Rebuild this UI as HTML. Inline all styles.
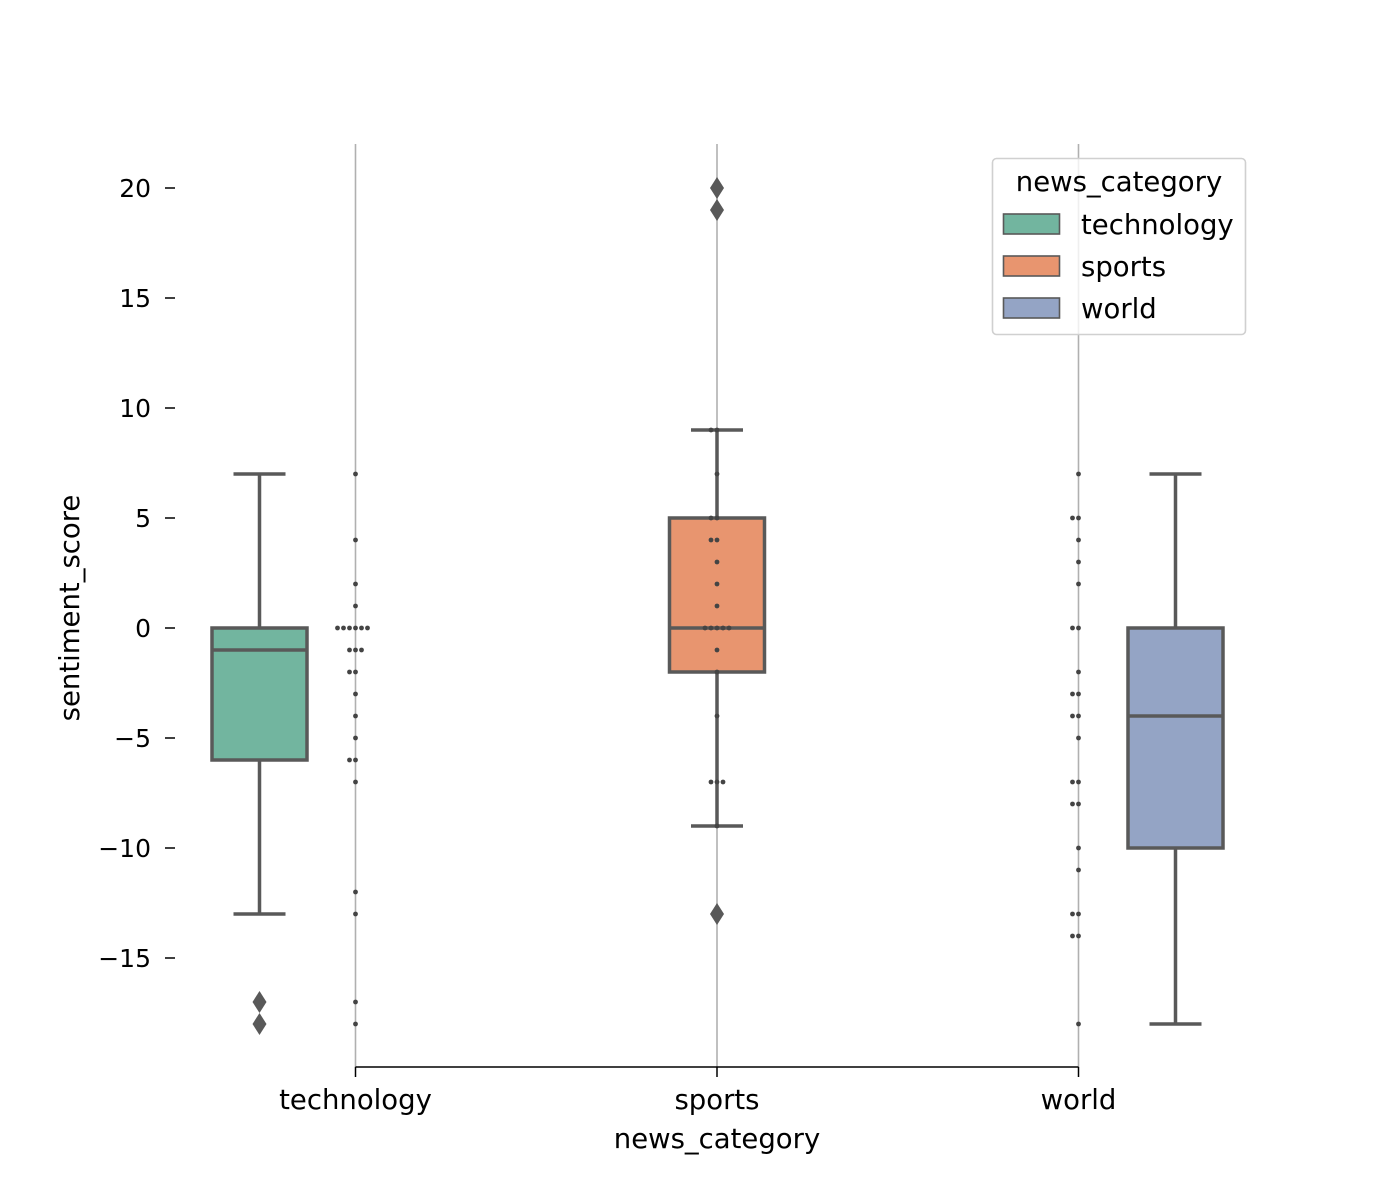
<!DOCTYPE html>
<html><head><meta charset="utf-8"><style>
html,body{margin:0;padding:0;background:#fff;}
svg{display:block;font-family:"DejaVu Sans","Liberation Sans",sans-serif;}
</style></head><body>
<svg id="chart" width="1400" height="1200" viewBox="0 0 1400 1200"></svg>
<script>
const categories = ["technology","sports","world"];
const boxQ1 = [-6, -2, -10];
const boxQ3 = [0, 5, 0];
const boxMedian = [-1, 0, -4];
const whiskerLow = [-13, -9, -18];
const whiskerHigh = [7, 9, 7];
const outliers = [[-17, -18], [20, 19, -13], []];
const boxColors = ["#72b59f", "#e8956f", "#94a4c5"];
const swarmTech = [7,4,2,1,0,0,0,0,0,0,-1,-1,-1,-2,-2,-3,-4,-5,-6,-6,-7,-12,-13,-17,-18];
const swarmSports = [20,19,9,9,7,5,5,4,4,3,2,1,0,0,0,0,0,-1,-2,-4,-7,-7,-7,-9,-13];
const swarmWorld = [7,5,5,4,3,2,0,0,-2,-3,-3,-4,-4,-5,-7,-7,-8,-8,-10,-11,-13,-13,-14,-14,-18];
const yTicks = [-15,-10,-5,0,5,10,15,20];

const svg = document.getElementById('chart');
const NS = "http://www.w3.org/2000/svg";
function mk(tag, attrs, parent){ const e=document.createElementNS(NS,tag); for(const k in attrs) e.setAttribute(k,attrs[k]); (parent||svg).appendChild(e); return e; }
const yS = v => 628 - v*22;
const xS = i => 355.5 + i*361.5;
const boxOff = [-96, 0, 97];
const swarms = [swarmTech, swarmSports, swarmWorld];
const lc = "#595959";
const FS = 25;
const FL = 27.5;

categories.forEach((c,i)=>{
  const g = mk('line',{x1:xS(i),x2:xS(i),y1:144,y2:1067,stroke:"#b0b0b0","stroke-width":1.6});
  
  
});
yTicks.forEach(t=>{
  const l = mk('line',{x1:165,x2:175,y1:yS(t),y2:yS(t),stroke:"#000","stroke-width":1.5});
  
  
  const tx = mk('text',{x:151,y:yS(t)+9,"text-anchor":"end","font-size":FS,fill:"#000"});
  tx.textContent = (t<0?"\u2212"+(-t):String(t));
  
  
});
const xa = mk('line',{x1:xS(0),x2:xS(2),y1:1067,y2:1067,stroke:"#000","stroke-width":1.5});


categories.forEach((c,i)=>{
  const t = mk('line',{x1:xS(i),x2:xS(i),y1:1067,y2:1077,stroke:"#000","stroke-width":1.5});
  
  
  const tx = mk('text',{x:xS(i),y:1109,"text-anchor":"middle","font-size":FL});
  tx.textContent=c;
  
  
});
categories.forEach((c,i)=>{
  const cx = xS(i)+boxOff[i];
  const g = mk('g',{});
  
  
  mk('line',{x1:cx,x2:cx,y1:yS(whiskerHigh[i]),y2:yS(boxQ3[i]),stroke:lc,"stroke-width":3.5},g);
  mk('line',{x1:cx,x2:cx,y1:yS(boxQ1[i]),y2:yS(whiskerLow[i]),stroke:lc,"stroke-width":3.5},g);
  mk('line',{x1:cx-26,x2:cx+26,y1:yS(whiskerHigh[i]),y2:yS(whiskerHigh[i]),stroke:lc,"stroke-width":3.5},g);
  mk('line',{x1:cx-26,x2:cx+26,y1:yS(whiskerLow[i]),y2:yS(whiskerLow[i]),stroke:lc,"stroke-width":3.5},g);
  mk('rect',{x:cx-47.5,y:yS(boxQ3[i]),width:95,height:yS(boxQ1[i])-yS(boxQ3[i]),fill:boxColors[i],stroke:lc,"stroke-width":3.5},g);
  mk('line',{x1:cx-47.5,x2:cx+47.5,y1:yS(boxMedian[i]),y2:yS(boxMedian[i]),stroke:lc,"stroke-width":3.5},g);
});
swarms.forEach((arr,i)=>{
  const counts={};
  arr.forEach(v=>{counts[v]=(counts[v]||0)+1;});
  const idx={};
  arr.forEach(v=>{
    const n=counts[v]; const k=(idx[v]=(idx[v]||0)+1)-1;
    let off;
    if(n===1) off=0; else if(n%2===0) off=(k-n/2)*6; else off=(k-(n-1)/2)*6;
    const d = mk('circle',{cx:xS(i)+off,cy:yS(v),r:2.4,fill:"#444"});
    
    
  });
});
categories.forEach((c,i)=>{
  const cx = xS(i)+boxOff[i];
  outliers[i].forEach(v=>{
    const y=yS(v);
    const p = mk('polygon',{points:`${cx},${y-11} ${cx+7},${y} ${cx},${y+11} ${cx-7},${y}`,fill:lc});
    
    
  });
});
const xt = mk('text',{x:717,y:1148,"text-anchor":"middle","font-size":FL});
xt.textContent="news_category";


const yt = mk('text',{x:0,y:0,"text-anchor":"middle","font-size":FL,transform:"translate(79,608) rotate(-90)"});
yt.textContent="sentiment_score";


const lg = mk('g',{});


mk('rect',{x:992.5,y:158.5,width:253,height:176,rx:4,fill:"rgba(255,255,255,0.8)",stroke:"#d0d0d0","stroke-width":1.6},lg);
const lt = mk('text',{x:1119,y:191,"text-anchor":"middle","font-size":FL},lg);
lt.textContent="news_category";


categories.forEach((c,i)=>{
  const y = 214+i*42;
  const e = mk('g',{},lg);
  
  
  mk('rect',{x:1003.5,y:y,width:56,height:20,fill:boxColors[i],stroke:lc,"stroke-width":1.6},e);
  const t = mk('text',{x:1081,y:y+20,"font-size":FL},e);
  t.textContent=c;
});
</script>
</body></html>
